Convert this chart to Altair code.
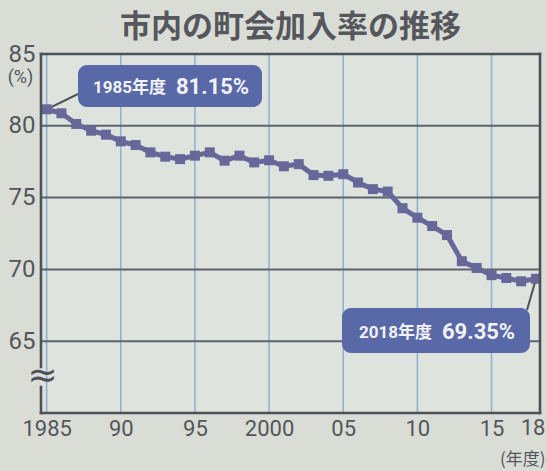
import altair as alt
import pandas as pd

# ---- data ----
years = list(range(1985, 2019))
rates = [81.15, 80.87, 80.13, 79.66, 79.38, 78.92, 78.66, 78.15, 77.85, 77.68,
         77.92, 78.15, 77.57, 77.92, 77.45, 77.60, 77.18, 77.33, 76.57, 76.52,
         76.63, 76.05, 75.59, 75.42, 74.26, 73.60, 73.02, 72.39, 70.57, 70.10,
         69.60, 69.40, 69.17, 69.35]
x_ticks = [1985, 1990, 1995, 2000, 2005, 2010, 2015]
x_tick_labels = ["1985", "90", "95", "2000", "05", "10", "15"]
last_tick = [2018]
last_tick_label = ["18"]
x_grid = [1985, 1990, 1995, 2000, 2005, 2010, 2015]
y_ticks = [65, 70, 75, 80, 85]
y_grid = [65, 70, 75, 80]
title_text = "市内の町会加入率の推移"
x_unit = "(年度)"
y_unit = "(%)"
start_note = ["1985年度", "81.15%"]
end_note = ["2018年度", "69.35%"]

# ---- styling ----
W, H = 499, 359
BG = "#d9ddd6"
PLOT_BG = "#dee3de"
FRAME = "#4d5258"
HGRID = "#5e636b"
VGRID = "#93b2d2"
LINE = "#68679a"
BOX = "#5968a7"
TXT = "#53565b"
NUM = "Roboto, 'Liberation Sans', sans-serif"
CJK = "'Noto Sans CJK JP', sans-serif"
MIX = "Roboto, 'Noto Sans CJK JP', sans-serif"
XLAB_SIZE = 22
XLAB_PAD = 5

df = pd.DataFrame({"year": years, "rate": rates})

xs = alt.Scale(domain=[1984.62, 2018.27], nice=False, zero=False)
ys = alt.Scale(domain=[60, 85], nice=False, zero=False)

label_expr = "''"
for v, l in zip(x_ticks, x_tick_labels):
    label_expr = f"datum.value == {v} ? '{l}' : ({label_expr})"

x_axis = alt.Axis(values=x_ticks, labelExpr=label_expr, grid=False,
                  domain=False, ticks=False, labelFont=NUM,
                  labelFontSize=XLAB_SIZE, labelColor=TXT, labelPadding=XLAB_PAD,
                  labelBaseline="top",
                  labelFlush=False, labelOverlap=False,
                  title=x_unit, titleFont=CJK, titleFontSize=17,
                  titleFontWeight="normal", titleColor=TXT,
                  titleAnchor="end", titleAlign="right",
                  titleBaseline="middle", titleX=W + 5, titleY=46)
y_axis = alt.Axis(values=y_ticks, grid=False, domain=False, ticks=False,
                  labelFont=NUM, labelFontSize=24, labelColor=TXT,
                  labelPadding=6, labelFlush=False, labelOverlap=False,
                  title=y_unit, titleFont=NUM, titleFontSize=18,
                  titleFontWeight="normal", titleColor=TXT,
                  titleAngle=0, titleAlign="center",
                  titleBaseline="middle", titleX=-21, titleY=23)

X = lambda f: alt.X(f, scale=xs, axis=x_axis)
Y = lambda f: alt.Y(f, scale=ys, axis=y_axis)

one = pd.DataFrame({"a": [0]})

vgrid = alt.Chart(pd.DataFrame({"x": x_grid})).mark_rule(
    color=VGRID, strokeWidth=1.6
).encode(x=X("x:Q"))

hgrid = alt.Chart(pd.DataFrame({"y": y_grid})).mark_rule(
    color=HGRID, strokeWidth=2
).encode(y=Y("y:Q"))

def rule(**kw):
    enc = {k: alt.value(v) for k, v in kw.items()}
    return alt.Chart(one).mark_rule(color=FRAME, strokeWidth=2.6, strokeCap="square").encode(**enc)

frame = alt.layer(
    rule(x=0, x2=W, y=0),
    rule(x=0, x2=W, y=H),
    rule(x=W, y=0, y2=H),
    rule(x=0, y=0, y2=313),
    rule(x=0, y=333, y2=H),
)

brk = alt.Chart(one).mark_text(
    text="≈", font="DejaVu Sans", fontSize=36, color=FRAME,
    align="center", baseline="middle"
).encode(x=alt.value(1.5), y=alt.value(322))

# last x tick label, nudged left so it stays inside the picture
last_lab = alt.Chart(pd.DataFrame({"year": last_tick, "lab": last_tick_label})).mark_text(
    font=NUM, fontSize=XLAB_SIZE, color=TXT, align="center", baseline="top", dx=-3
).encode(x=X("year:Q"), y=alt.value(H + XLAB_PAD), text="lab:N")

line = alt.Chart(df).mark_line(color=LINE, strokeWidth=5).encode(
    x=X("year:Q"), y=Y("rate:Q"))

points = alt.Chart(df).mark_point(
    shape="square", filled=True, size=100, color=LINE, opacity=1
).encode(x=X("year:Q"), y=Y("rate:Q"))

ends = df.iloc[[0, -1]].reset_index(drop=True)
connectors = alt.layer(
    alt.Chart(ends.iloc[[0]]).mark_rule(color=FRAME, strokeWidth=2).encode(
        x=X("year:Q"), y=Y("rate:Q"), x2=alt.value(37), y2=alt.value(40)),
    alt.Chart(ends.iloc[[1]]).mark_rule(color=FRAME, strokeWidth=2).encode(
        x=X("year:Q"), y=Y("rate:Q"), x2=alt.value(486), y2=alt.value(256)),
)

def note(box, label, small_x, big_x, cy):
    x0, x1, y0, y1 = box
    rect = alt.Chart(one).mark_rect(color=BOX, cornerRadius=9).encode(
        x=alt.value(x0), x2=alt.value(x1), y=alt.value(y0), y2=alt.value(y1))
    small = alt.Chart(pd.DataFrame({"t": [label[0]]})).mark_text(
        font=MIX, fontSize=17, fontWeight="bold", color="#f1f2f4",
        align="left", baseline="middle"
    ).encode(x=alt.value(small_x), y=alt.value(cy + 1), text="t:N")
    big = alt.Chart(pd.DataFrame({"t": [label[1]]})).mark_text(
        font=NUM, fontSize=22, fontWeight="bold", color="#f1f2f4",
        align="left", baseline="middle"
    ).encode(x=alt.value(big_x), y=alt.value(cy), text="t:N")
    return alt.layer(rect, small, big)

note1 = note((37, 221, 11, 53), start_note, 52, 135, 33)
note2 = note((301, 489, 254, 299), end_note, 318, 401, 278)

chart = alt.layer(
    vgrid, hgrid, connectors, line, points, frame, brk, last_lab, note1, note2
).properties(
    width=W, height=H,
    title=alt.TitleParams(title_text, font=CJK, fontSize=31, fontWeight="bold",
                          color="#55575c", anchor="middle", offset=10, dy=12),
    autosize=alt.AutoSizeParams(type="none"),
    padding={"left": 41, "top": 54, "right": 6, "bottom": 58},
    background=BG,
).configure_view(stroke=None, fill=PLOT_BG)

chart.save("out.html", embed_options={"renderer": "svg", "actions": False})
